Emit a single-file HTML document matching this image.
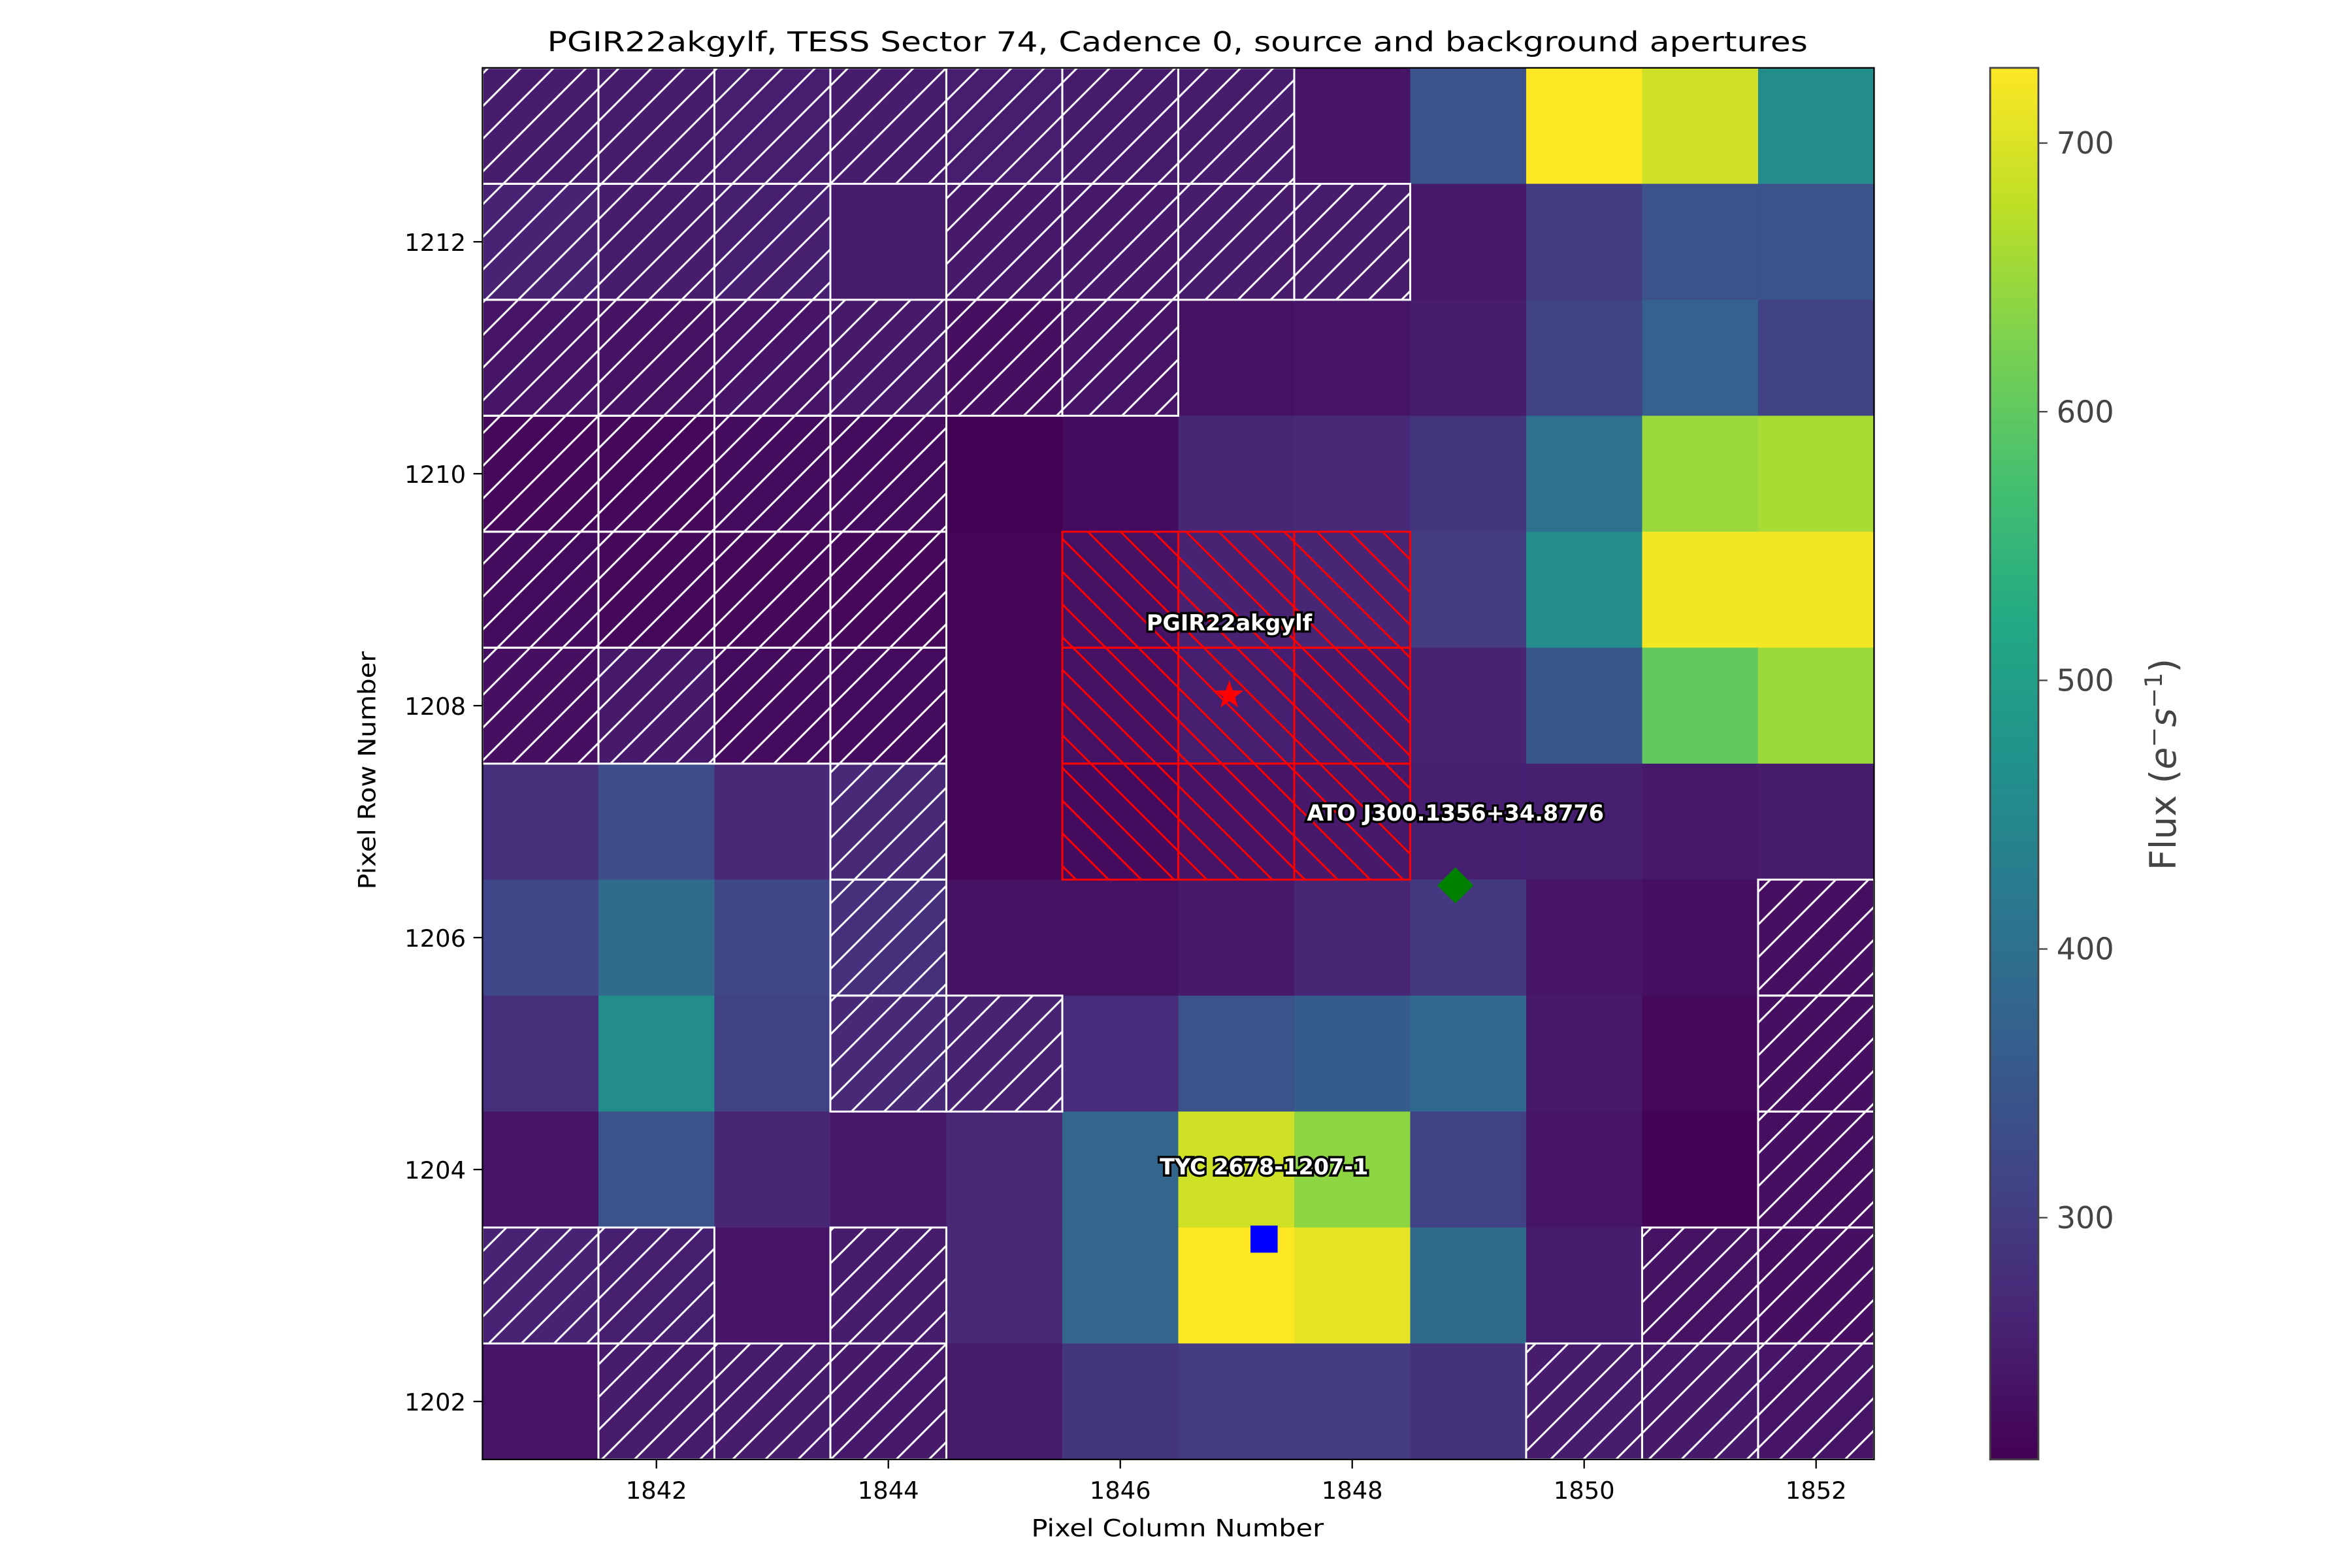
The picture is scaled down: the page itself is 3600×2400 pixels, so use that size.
<!DOCTYPE html>
<html><head><meta charset="utf-8"><style>
html,body{margin:0;padding:0;background:#fff}
svg{display:block}
text{font-family:"DejaVu Sans","Liberation Sans",sans-serif}
</style></head><body>
<svg id="chart" width="3600" height="2400" viewBox="0 0 1560 1040" xmlns="http://www.w3.org/2000/svg">
<defs>
<pattern id="bgHatch" patternUnits="userSpaceOnUse" width="21.7" height="21.7">
<path d="M-5.4,5.4 L5.4,-5.4 M0,21.7 L21.7,0 M16.3,27.1 L27.1,16.3" stroke="#fff" stroke-width="1.3"/>
</pattern>
<pattern id="srcHatch" patternUnits="userSpaceOnUse" width="21.7" height="21.7">
<path d="M-5.4,16.3 L5.4,27.1 M0,0 L21.7,21.7 M16.3,-5.4 L27.1,5.4" stroke="#f00" stroke-width="1.3"/>
</pattern>
<linearGradient id="cbGrad" x1="0" y1="1" x2="0" y2="0">
<stop offset="0" stop-color="#440154"/><stop offset="0.1" stop-color="#482475"/><stop offset="0.2" stop-color="#414487"/><stop offset="0.3" stop-color="#355f8d"/><stop offset="0.4" stop-color="#2a788e"/><stop offset="0.5" stop-color="#21918c"/><stop offset="0.6" stop-color="#22a884"/><stop offset="0.7" stop-color="#44bf70"/><stop offset="0.8" stop-color="#7ad151"/><stop offset="0.9" stop-color="#bddf26"/><stop offset="1" stop-color="#fde725"/>
</linearGradient>
</defs>
<text x="781" y="34" font-size="18" text-anchor="middle" textLength="836" lengthAdjust="spacingAndGlyphs">PGIR22akgylf, TESS Sector 74, Cadence 0, source and background apertures</text>
<g id="cells"></g>
<g id="hatches"></g>
<g id="marks"></g>
<rect x="320" y="45" width="923" height="923" fill="none" stroke="#000" stroke-width="1"/>
<g id="axes"></g>
<text x="781" y="1019" font-size="16" text-anchor="middle" textLength="194" lengthAdjust="spacingAndGlyphs">Pixel Column Number</text>
<text transform="translate(249,511) rotate(-90)" font-size="16" text-anchor="middle" textLength="158" lengthAdjust="spacingAndGlyphs">Pixel Row Number</text>
<rect x="1320" y="45" width="32" height="923" fill="url(#cbGrad)" stroke="#444" stroke-width="1.2"/>
<g id="cbticks"></g>
<text transform="translate(1443,507) rotate(-90)" font-size="24" fill="#444" text-anchor="middle">Flux (<tspan font-style="italic">e</tspan><tspan font-size="16" dy="-9">−</tspan><tspan dy="9" font-style="italic">s</tspan><tspan font-size="16" dy="-9">−1</tspan><tspan dy="9">)</tspan></text>
</svg>
<script>
const columns=[1841,1842,1843,1844,1845,1846,1847,1848,1849,1850,1851,1852];
const rows=[1213,1212,1211,1210,1209,1208,1207,1206,1205,1204,1203,1202];
const flux=[
[250,250,252,250,252,248,250,240,340,728,690,460],
[260,250,255,250,245,245,250,250,245,300,340,340],
[240,235,240,245,230,240,235,240,250,310,370,310],
[220,220,225,225,212,225,265,270,290,400,650,660],
[225,220,220,220,215,235,260,265,300,460,720,720],
[230,245,225,225,215,235,255,250,260,350,600,650],
[280,330,270,270,215,225,240,245,255,255,245,250],
[320,390,320,280,235,235,245,265,295,240,230,230],
[280,460,310,270,260,275,340,360,385,245,220,230],
[240,340,265,245,270,380,690,640,310,240,212,230],
[260,255,240,250,270,380,728,710,390,250,235,230],
[240,250,250,245,250,290,300,300,285,250,245,240]];
const bgMask=[
[1,1,1,1,1,1,1,0,0,0,0,0],
[1,1,1,0,1,1,1,1,0,0,0,0],
[1,1,1,1,1,1,0,0,0,0,0,0],
[1,1,1,1,0,0,0,0,0,0,0,0],
[1,1,1,1,0,0,0,0,0,0,0,0],
[1,1,1,1,0,0,0,0,0,0,0,0],
[0,0,0,1,0,0,0,0,0,0,0,0],
[0,0,0,1,0,0,0,0,0,0,0,1],
[0,0,0,1,1,0,0,0,0,0,0,1],
[0,0,0,0,0,0,0,0,0,0,0,1],
[1,1,0,1,0,0,0,0,0,0,1,1],
[0,1,1,1,0,0,0,0,0,1,1,1]];
const srcRows=[1209,1208,1207];
const srcCols=[1846,1847,1848];
const xTicks=[1842,1844,1846,1848,1850,1852];
const yTicks=[1202,1204,1206,1208,1210,1212];
const cbTicks=[300,400,500,600,700];
const vmin=210, vmax=728;
const targetNames=["PGIR22akgylf","ATO J300.1356+34.8776","TYC 2678-1207-1"];
const targetCols=[1846.94,1848.89,1847.24];
const targetRows=[1208.09,1206.45,1203.40];

const NS="http://www.w3.org/2000/svg";
const X0=320,Y0=45,W=923,H=923;
const cw=W/12;
function xs(c){return X0+(c-1840.5)*cw;}
function ys(r){return Y0+(1213.5-r)*cw;}
function cy(v){return 968-(v-vmin)/(vmax-vmin)*923;}
const stops=["#440154","#482475","#414487","#355f8d","#2a788e","#21918c","#22a884","#44bf70","#7ad151","#bddf26","#fde725"];
function hex(h){return [1,3,5].map(i=>parseInt(h.substr(i,2),16));}
function viridis(v){let t=Math.max(0,Math.min(1,(v-vmin)/(vmax-vmin)))*10;let i=Math.min(9,Math.floor(t));let f=t-i;let a=hex(stops[i]),b=hex(stops[i+1]);return "rgb("+a.map((x,k)=>Math.round(x+(b[k]-x)*f)).join(",")+")";}
function el(tag,attrs,parent){const e=document.createElementNS(NS,tag);for(const k in attrs)e.setAttribute(k,attrs[k]);parent.appendChild(e);return e;}
const gc=document.getElementById('cells'),gh=document.getElementById('hatches'),gm=document.getElementById('marks'),ga=document.getElementById('axes'),gcb=document.getElementById('cbticks');
rows.forEach((r,i)=>columns.forEach((c,j)=>{
 const e=el('rect',{x:xs(c-0.5),y:ys(r+0.5),width:cw+0.3,height:cw+0.3,fill:viridis(flux[i][j])},gc);
 
 
}));
rows.forEach((r,i)=>columns.forEach((c,j)=>{
 if(bgMask[i][j]){
  const e=el('rect',{x:xs(c-0.5),y:ys(r+0.5),width:cw,height:cw,fill:'url(#bgHatch)',stroke:'#fff','stroke-width':1.3},gh);
  
  
 }
}));
srcRows.forEach(r=>srcCols.forEach(c=>{
 const e=el('rect',{x:xs(c-0.5),y:ys(r+0.5),width:cw,height:cw,fill:'url(#srcHatch)',stroke:'#f00','stroke-width':1.3},gh);
 
 
}));
function starPath(cx,cyy,R){let p='';for(let k=0;k<10;k++){const rr=k%2?R*0.4:R;const a=-Math.PI/2+k*Math.PI/5;p+=(k?'L':'M')+(cx+rr*Math.cos(a)).toFixed(2)+','+(cyy+rr*Math.sin(a)).toFixed(2);}return p+'Z';}
targetNames.forEach((n,k)=>{
 const px=xs(targetCols[k]),py=ys(targetRows[k]);
 let m;
 if(k===0){m=el('path',{d:starPath(px,py,10),fill:'#f00'},gm);}
 else if(k===1){m=el('path',{d:`M${px},${py-12}L${px+12},${py}L${px},${py+12}L${px-12},${py}Z`,fill:'#008000'},gm);}
 else {m=el('rect',{x:px-9,y:py-9,width:18,height:18,fill:'#00f'},gm);}
 
 const t=el('text',{x:px,y:py-43,'font-size':14.5,'font-weight':'bold','text-anchor':'middle',fill:'#fff',stroke:'#000','stroke-width':3,'paint-order':'stroke'},gm);
 t.textContent=n;
 
 
});
xTicks.forEach(v=>{
 const x=xs(v);
 const l=el('line',{x1:x,y1:968,x2:x,y2:974,stroke:'#000','stroke-width':1},ga);
 
 
 const t=el('text',{x:x,y:994,'font-size':16,'text-anchor':'middle'},ga);t.textContent=v;
 
 
});
yTicks.forEach(v=>{
 const y=ys(v);
 const l=el('line',{x1:314,y1:y,x2:320,y2:y,stroke:'#000','stroke-width':1},ga);
 
 
 const t=el('text',{x:309,y:y+6,'font-size':16,'text-anchor':'end'},ga);t.textContent=v;
 
 
});
cbTicks.forEach(v=>{
 const y=cy(v);
 const l=el('line',{x1:1352,y1:y,x2:1358,y2:y,stroke:'#444','stroke-width':1},gcb);
 
 
 const t=el('text',{x:1364,y:y+7,'font-size':20,fill:'#444'},gcb);t.textContent=v;
 
 
});
</script>
</body></html>
